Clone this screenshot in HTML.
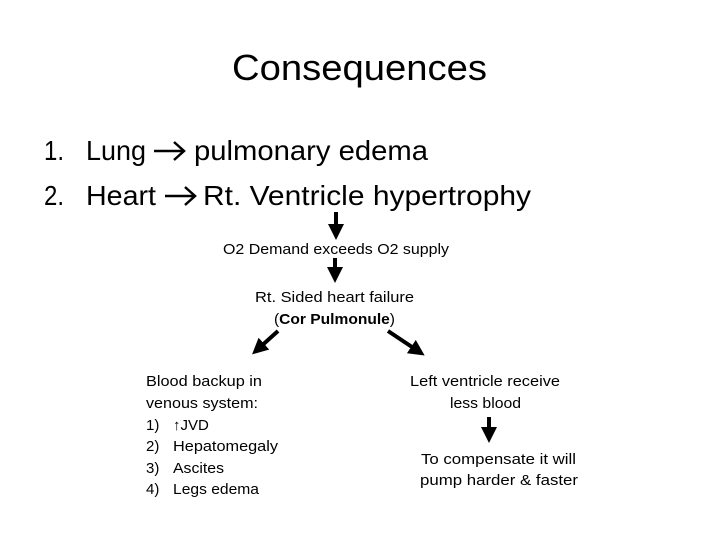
<!DOCTYPE html>
<html><head><meta charset="utf-8"><style>body{margin:0;background:#fff}svg{display:block}text{font-family:"Liberation Sans",sans-serif;fill:#000}</style></head><body>
<svg width="720" height="540" viewBox="0 0 720 540" xmlns="http://www.w3.org/2000/svg">
<defs><marker id="a" markerWidth="4" markerHeight="4" refX="2" refY="2" orient="auto" markerUnits="strokeWidth"><path d="M0,0 L4,2 L0,4 z" fill="#000"/></marker></defs>
<text x="232" y="80" font-size="36" textLength="255" lengthAdjust="spacingAndGlyphs">Consequences</text>
<text x="44" y="160" font-size="28" textLength="20" lengthAdjust="spacingAndGlyphs">1.</text>
<text x="86" y="160" font-size="28" textLength="60" lengthAdjust="spacingAndGlyphs">Lung</text>
<text x="194" y="160" font-size="28" textLength="234" lengthAdjust="spacingAndGlyphs">pulmonary edema</text>
<text x="44" y="205" font-size="28" textLength="20" lengthAdjust="spacingAndGlyphs">2.</text>
<text x="86" y="205" font-size="28" textLength="70" lengthAdjust="spacingAndGlyphs">Heart</text>
<text x="203" y="205" font-size="28" textLength="328" lengthAdjust="spacingAndGlyphs">Rt. Ventricle hypertrophy</text>
<g stroke="#000" stroke-width="2.5" fill="none"><path d="M154,151 H183 M174,142 L184,151 L174,160"/><path d="M165,196 H194 M185,187 L195,196 L185,205"/></g>
<g stroke="#000" stroke-width="4"><line x1="336" y1="212" x2="336" y2="232" marker-end="url(#a)"/><line x1="335" y1="258" x2="335" y2="275" marker-end="url(#a)"/><line x1="278" y1="331" x2="258" y2="349" marker-end="url(#a)"/><line x1="388" y1="331" x2="418" y2="351" marker-end="url(#a)"/><line x1="489" y1="417" x2="489" y2="435" marker-end="url(#a)"/></g>
<g font-size="15">
<text x="223" y="254" textLength="226" lengthAdjust="spacingAndGlyphs">O2 Demand exceeds O2 supply</text>
<text x="255" y="302" textLength="159" lengthAdjust="spacingAndGlyphs">Rt. Sided heart failure</text>
<text x="274" y="324" textLength="121" lengthAdjust="spacingAndGlyphs">(<tspan font-weight="bold">Cor Pulmonule</tspan>)</text>
<text x="146" y="386" textLength="116" lengthAdjust="spacingAndGlyphs">Blood backup in</text>
<text x="146" y="408" textLength="112" lengthAdjust="spacingAndGlyphs">venous system:</text>
<text x="146" y="430">1)</text><text x="173" y="430">↑JVD</text>
<text x="146" y="451">2)</text><text x="173" y="451" textLength="105" lengthAdjust="spacingAndGlyphs">Hepatomegaly</text>
<text x="146" y="473">3)</text><text x="173" y="473" textLength="51" lengthAdjust="spacingAndGlyphs">Ascites</text>
<text x="146" y="494">4)</text><text x="173" y="494" textLength="86" lengthAdjust="spacingAndGlyphs">Legs edema</text>
<text x="410" y="386" textLength="150" lengthAdjust="spacingAndGlyphs">Left ventricle receive</text>
<text x="450" y="408" textLength="71" lengthAdjust="spacingAndGlyphs">less blood</text>
<text x="421" y="464" textLength="155" lengthAdjust="spacingAndGlyphs">To compensate it will</text>
<text x="420" y="485" textLength="158" lengthAdjust="spacingAndGlyphs">pump harder &amp; faster</text>
</g>
</svg>
</body></html>
